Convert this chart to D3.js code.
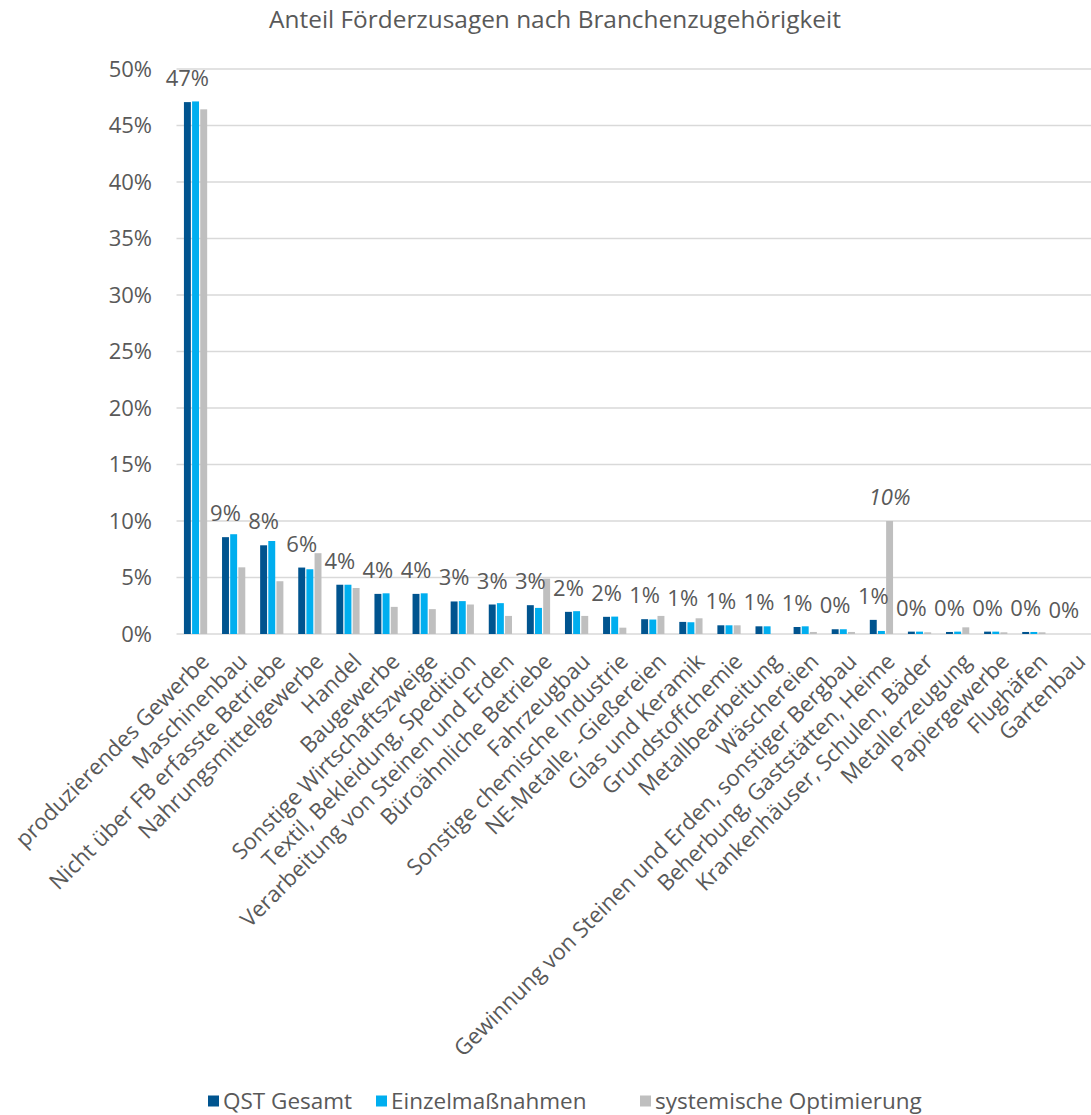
<!DOCTYPE html>
<html lang="de">
<head>
    <meta charset="UTF-8">
    <script src="https://d3js.org/d3.v7.min.js"></script>
    <style>
        body { margin: 0; background: #fff; font-family: "Open Sans", Arial, sans-serif; }
        text { fill: #595959; font-family: "Open Sans", Arial, sans-serif; font-weight: 400; }
    </style>
</head>
<body>
<div id="chart"></div>
<script>
    // Branchen (Kategorien)
    const categories = [
        "produzierendes Gewerbe", "Maschinenbau", "Nicht über FB erfasste Betriebe",
        "Nahrungsmittelgewerbe", "Handel", "Baugewerbe", "Sonstige Wirtschaftszweige",
        "Textil, Bekleidung, Spedition", "Verarbeitung von Steinen und Erden",
        "Büroähnliche Betriebe", "Fahrzeugbau", "Sonstige chemische Industrie",
        "NE-Metalle, -Gießereien", "Glas und Keramik", "Grundstoffchemie",
        "Metallbearbeitung", "Wäschereien", "Gewinnung von Steinen und Erden, sonstiger Bergbau",
        "Beherbung, Gaststätten, Heime", "Krankenhäuser, Schulen, Bäder",
        "Metallerzeugung", "Papiergewerbe", "Flughäfen", "Gartenbau"
    ];
    const seriesNames = ["QST Gesamt", "Einzelmaßnahmen", "systemische Optimierung"];

    // Anteile in %
    const qstGesamt = [47.07, 8.57, 7.85, 5.88, 4.36, 3.55, 3.55, 2.88, 2.61, 2.55, 1.96, 1.52,
        1.31, 1.07, 0.77, 0.68, 0.62, 0.42, 1.25, 0.21, 0.18, 0.21, 0.18, 0];
    const einzel = [47.13, 8.83, 8.23, 5.73, 4.36, 3.6, 3.6, 2.91, 2.73, 2.31, 2.02, 1.54,
        1.28, 1.04, 0.77, 0.68, 0.68, 0.42, 0.27, 0.21, 0.21, 0.21, 0.18, 0];
    const systemisch = [46.43, 5.9, 4.67, 7.15, 4.07, 2.4, 2.2, 2.61, 1.6, 4.9, 1.6, 0.56,
        1.6, 1.39, 0.77, 0, 0.18, 0.18, 10.0, 0.15, 0.59, 0.15, 0.15, 0];
    const yTicks = [0, 5, 10, 15, 20, 25, 30, 35, 40, 45, 50];
    const colors = ["#00548f", "#00aeef", "#bfbfbf"];

    const W = 1091, H = 1115;
    const svg = d3.select("#chart").append("svg").attr("width", W).attr("height", H);

    const values = [qstGesamt, einzel, systemisch];
    const data = categories.map((c, i) => ({
        cat: c,
        vals: seriesNames.map((s, j) => ({ series: s, value: values[j][i] }))
    }));

    const x0 = d3.scaleBand().domain(categories).range([176.5, 1091])
        .paddingInner(0.39).paddingOuter(0.195);
    const x1 = d3.scaleBand().domain(seriesNames).range([0, x0.bandwidth()]).paddingInner(0.15);
    const y = d3.scaleLinear().domain([0, 50]).range([634, 69]);
    const color = d3.scaleOrdinal().domain(seriesNames).range(colors);

    // title
    svg.append("text")
        .attr("x", 555).attr("y", 28)
        .attr("text-anchor", "middle")
        .style("font-size", "24.4px")
        .text("Anteil Förderzusagen nach Branchenzugehörigkeit");

    // grid
    svg.append("g").selectAll("line")
        .data(yTicks)
        .join("line")
        .attr("x1", 176.5).attr("x2", 1091)
        .attr("y1", d => y(d)).attr("y2", d => y(d))
        .attr("stroke", "#d9d9d9")
        .attr("stroke-width", 1.5);

    // y axis labels
    const yAxis = svg.append("g")
        .attr("transform", "translate(152,0)")
        .call(d3.axisLeft(y).tickValues(yTicks).tickSize(0).tickFormat(d => d + "%"));
    yAxis.select(".domain").remove();
    yAxis.selectAll("text")
        .attr("x", 0)
        .style("font-size", "22px")
        .attr("fill", "#595959");

    // bars
    const groups = svg.append("g").selectAll("g")
        .data(data)
        .join("g")
        .attr("transform", d => `translate(${x0(d.cat)},0)`);

    groups.selectAll("rect")
        .data(d => d.vals)
        .join("rect")
        .attr("x", d => x1(d.series))
        .attr("y", d => y(d.value))
        .attr("width", x1.bandwidth())
        .attr("height", d => y(0) - y(d.value))
        .attr("fill", d => color(d.series));

    // data labels (QST Gesamt)
    svg.append("g").selectAll("text")
        .data(data)
        .join("text")
        .attr("x", d => x0(d.cat) + x1(seriesNames[0]) + x1.bandwidth() / 2)
        .attr("y", d => y(d.vals[0].value) - 16)
        .attr("text-anchor", "middle")
        .style("font-size", "22px")
        .text(d => Math.round(d.vals[0].value) + "%");

    // extra label for systemische Optimierung at 10%
    const heime = data[18];
    svg.append("text")
        .attr("x", x0(heime.cat) + x1(seriesNames[2]) + x1.bandwidth() / 2)
        .attr("y", y(heime.vals[2].value) - 16)
        .attr("text-anchor", "middle")
        .style("font-size", "22px")
        .style("font-style", "italic")
        .text(Math.round(heime.vals[2].value) + "%");

    // category labels
    svg.append("g").selectAll("text")
        .data(categories)
        .join("text")
        .attr("transform", d => `translate(${x0(d) + x0.bandwidth() / 2},648) rotate(-45)`)
        .attr("text-anchor", "end")
        .attr("dy", "0.95em")
        .style("font-size", "22.2px")
        .text(d => d);

    // legend
    const legendX = [208, 376, 640];
    const legend = svg.append("g").selectAll("g")
        .data(seriesNames)
        .join("g")
        .attr("transform", (d, i) => `translate(${legendX[i]},1101)`);
    legend.append("rect")
        .attr("x", 0).attr("y", -5.5)
        .attr("width", 11).attr("height", 11)
        .attr("fill", d => color(d));
    legend.append("text")
        .attr("x", 15).attr("dy", "0.35em")
        .style("font-size", "22.5px")
        .text(d => d);
</script>
</body>
</html>
